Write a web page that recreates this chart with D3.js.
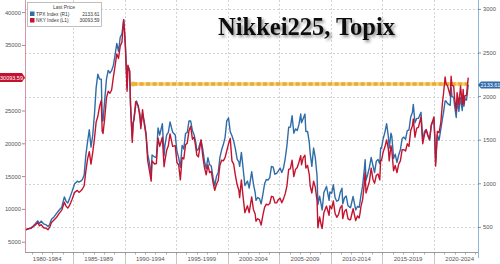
<!DOCTYPE html>
<html>
<head>
<meta charset="utf-8">
<script src="https://cdn.jsdelivr.net/npm/d3@7"></script>
<style>
  body { margin: 0; background: #fff; }
  svg { display: block; font-family: "Liberation Sans", Arial, sans-serif; }
</style>
</head>
<body>
<svg id="chart" width="500" height="264"></svg>
<script>
// Sample dates (year-month) and closing levels
const dates = [
  "1980-05","1980-09","1980-12",
  "1981-03","1981-05","1981-08","1981-10","1981-12",
  "1982-03","1982-06","1982-08","1982-10","1982-12",
  "1983-03","1983-06","1983-09","1983-12",
  "1984-03","1984-05","1984-07","1984-09","1984-12",
  "1985-03","1985-06","1985-08","1985-10","1985-12",
  "1986-02","1986-04","1986-06","1986-08","1986-10","1986-12",
  "1987-02","1987-04","1987-06","1987-08","1987-10","1987-11","1987-12",
  "1988-02","1988-04","1988-06","1988-08","1988-10","1988-12",
  "1989-02","1989-04","1989-06","1989-08","1989-10","1989-12",
  "1990-01","1990-02","1990-04","1990-05","1990-07","1990-08","1990-10","1990-11","1990-12",
  "1991-02","1991-03","1991-05","1991-07","1991-08","1991-10","1991-12",
  "1992-02","1992-04","1992-06","1992-08","1992-09","1992-12",
  "1993-02","1993-04","1993-06","1993-09","1993-11","1993-12",
  "1994-02","1994-04","1994-06","1994-09","1994-12",
  "1995-02","1995-04","1995-06","1995-08","1995-10","1995-12",
  "1996-02","1996-04","1996-06","1996-08","1996-10","1996-12",
  "1997-01","1997-03","1997-06","1997-08","1997-10","1997-12",
  "1998-02","1998-04","1998-06","1998-08","1998-10","1998-12",
  "1999-02","1999-04","1999-06","1999-08","1999-10","1999-12",
  "2000-02","2000-04","2000-06","2000-08","2000-10","2000-12",
  "2001-02","2001-03","2001-05","2001-07","2001-09","2001-12",
  "2002-02","2002-05","2002-07","2002-09","2002-10","2002-12",
  "2003-02","2003-04","2003-06","2003-08","2003-10","2003-12",
  "2004-02","2004-04","2004-06","2004-08","2004-10","2004-12",
  "2005-02","2005-04","2005-06","2005-08","2005-10","2005-12",
  "2006-02","2006-04","2006-06","2006-08","2006-10","2006-12",
  "2007-02","2007-03","2007-05","2007-07","2007-08","2007-10","2007-12",
  "2008-01","2008-03","2008-05","2008-07","2008-09","2008-10","2008-12",
  "2009-02","2009-03","2009-05","2009-08","2009-11","2009-12",
  "2010-02","2010-04","2010-06","2010-08","2010-10","2010-12",
  "2011-02","2011-03","2011-05","2011-07","2011-09","2011-11","2011-12",
  "2012-03","2012-06","2012-08","2012-10","2012-11","2012-12",
  "2013-02","2013-04","2013-05","2013-06","2013-08","2013-10","2013-12",
  "2014-02","2014-04","2014-06","2014-08","2014-10","2014-11","2014-12",
  "2015-02","2015-04","2015-06","2015-08","2015-09","2015-11","2015-12",
  "2016-01","2016-02","2016-04","2016-06","2016-08","2016-10","2016-12",
  "2017-02","2017-04","2017-06","2017-08","2017-10","2017-12",
  "2018-01","2018-03","2018-05","2018-07","2018-10","2018-12",
  "2019-02","2019-04","2019-06","2019-08","2019-10","2019-12",
  "2020-01","2020-02","2020-03","2020-05","2020-07","2020-09","2020-11","2020-12",
  "2021-02","2021-03","2021-05","2021-08","2021-09","2021-10","2021-12",
  "2022-01","2022-03","2022-04","2022-06","2022-08","2022-10","2022-11","2022-12",
  "2023-01","2023-03","2023-04","2023-05"
];

// NKY Index (left axis)
const nky = [
  6800,7050,7116,
  7400,7600,8000,7500,7681,
  7200,7100,6900,7300,8016,
  8400,8800,9400,9893,
  11100,10500,10200,10600,11543,
  12600,12900,12600,12800,13113,
  13600,15800,17650,18800,16900,18701,
  20800,23300,24200,25700,26600,21910,21564,
  24000,27000,28000,27700,28200,30159,
  31900,33700,33000,34900,35500,38916,
  37200,34600,28000,32000,31000,25900,20222,23000,23849,
  26400,26300,25800,24000,22300,25200,22984,
  21300,17400,15900,14309,17400,16925,
  17000,20900,19600,21000,16500,17417,
  19000,19700,21500,19600,19723,
  17100,16800,14500,17900,17700,19868,
  20100,22000,22666,20700,21000,19361,
  18300,18000,20600,18200,16400,15259,
  16800,15600,15800,14100,12900,13842,
  14400,16700,17500,17400,17900,18934,
  20000,20833,17400,16900,15200,13786,
  12900,11800,14500,11900,9500,10542,
  9500,11900,10000,9300,8200,8579,
  8400,7607,9100,10300,10800,10676,
  10900,12000,11900,11000,11000,11488,
  11700,11000,11600,12400,13600,16111,
  16200,17500,15000,16100,16400,17226,
  18200,16800,17900,18260,16300,16700,15307,
  13600,12500,14300,13400,11300,7200,8860,
  7500,7100,9500,10500,9100,10546,
  10100,11300,9400,8800,9200,10229,
  10600,8600,9700,10000,8600,8400,8455,
  10100,8300,9000,8700,9400,10395,
  11500,13900,15600,12500,13400,14300,16291,
  14600,14000,15200,15400,14500,17500,17450,
  18800,19500,20600,19200,17400,19700,19034,
  17500,15900,16700,15600,16900,17400,19114,
  19100,18900,20000,19600,22000,22765,
  23800,21000,22400,22500,24100,20015,
  21400,22200,21300,20700,22900,23657,
  24100,21100,16600,21900,21700,23200,26400,27444,
  30200,29200,28800,27300,30300,28900,28792,
  27000,25000,27800,25900,28800,26000,28300,26095,
  27300,27400,28900,30093.59
];

// TPX Index (right axis)
const tpx = [
  470,485,494,
  520,540,575,545,573,
  540,528,511,535,593,
  620,660,700,731,
  850,800,780,830,913,
  1000,1030,1020,1030,1049,
  1100,1330,1480,1620,1420,1556,
  1800,2100,2258,2200,2200,1720,1725,
  1970,2200,2300,2270,2300,2357,
  2480,2610,2520,2680,2720,2881,
  2737,2590,2100,2350,2300,1900,1523,1700,1733,
  1900,1950,1880,1800,1660,1800,1714,
  1580,1340,1240,1103,1330,1308,
  1300,1640,1560,1690,1320,1439,
  1560,1590,1710,1590,1559,
  1370,1300,1190,1440,1400,1577,
  1590,1720,1720,1610,1560,1470,
  1380,1400,1500,1400,1260,1175,
  1300,1220,1200,1070,980,1086,
  1130,1300,1390,1450,1530,1722,
  1755,1600,1550,1490,1400,1283,
  1250,1200,1360,1180,980,1032,
  950,1140,1000,900,810,843,
  830,770,880,1000,1050,1043,
  1070,1200,1190,1110,1120,1149,
  1180,1130,1180,1290,1440,1649,
  1650,1780,1580,1630,1610,1681,
  1800,1700,1750,1800,1600,1600,1475,
  1350,1200,1410,1300,1090,760,859,
  750,700,900,970,810,907,
  890,990,840,800,810,899,
  950,770,840,860,750,730,728,
  854,700,740,730,790,860,
  980,1160,1276,1040,1110,1190,1302,
  1210,1130,1260,1280,1230,1410,1408,
  1520,1590,1690,1540,1410,1580,1547,
  1430,1290,1340,1245,1330,1390,1519,
  1535,1510,1610,1617,1765,1818,
  1911,1700,1750,1750,1820,1494,
  1600,1620,1550,1500,1670,1721,
  1750,1510,1240,1560,1500,1625,1754,1804,
  1950,1950,1920,1900,2110,2000,1992,
  1900,1760,1950,1830,1990,1840,2000,1891,
  1975,1960,2050,2133.61
];

const leftTicks = [5000, 10000, 15000, 20000, 25000, 30000, 35000, 40000];
const rightTicks = [500, 1000, 1500, 2000, 2500, 3000];
const periodLabels = ["1980-1984","1985-1989","1990-1994","1995-1999","2000-2004",
                      "2005-2009","2010-2014","2015-2019","2020-2024"];
const lastNky = 30093.59;
const lastTpx = 2133.61;
const levelSince = "1990-11";

const svg = d3.select("#chart");
const parse = d3.timeParse("%Y-%m");
const blue = "#2f6ca8";
const red = "#c4132f";

const plot = { left: 25, right: 478, top: 0, bottom: 252 };

const x = d3.scaleTime()
  .domain([new Date(1980, 0, 1), new Date(2025, 0, 1)])
  .range([21.4, 485.5]);
const yL = d3.scaleLinear().domain([0, 40000]).range([275, 12.6]);
const yR = d3.scaleLinear().domain([0, 3000]).range([271, 9.4]);

const rows = dates.map((d, i) => ({ date: parse(d), n: nky[i], t: tpx[i] }));

// Grid lines
const grid = svg.append("g").attr("stroke", "#c8c8c8").attr("stroke-dasharray", "2,2").attr("stroke-width", 0.8);
grid.selectAll("line.h")
  .data(rightTicks)
  .enter()
  .append("line")
  .attr("x1", plot.left).attr("x2", plot.right)
  .attr("y1", d => Math.round(yR(d)) + 0.5).attr("y2", d => Math.round(yR(d)) + 0.5);

const fiveYears = d3.range(1985, 2025, 5).map(yr => new Date(yr, 0, 1));
grid.selectAll("line.v")
  .data(fiveYears)
  .enter()
  .append("line")
  .attr("x1", d => Math.round(x(d)) + 0.5).attr("x2", d => Math.round(x(d)) + 0.5)
  .attr("y1", plot.top).attr("y2", plot.bottom);

// Separators below the axis
svg.append("g").selectAll("line")
  .data(fiveYears)
  .enter()
  .append("line")
  .attr("x1", d => Math.round(x(d)) + 0.5).attr("x2", d => Math.round(x(d)) + 0.5)
  .attr("y1", plot.bottom).attr("y2", 264)
  .attr("stroke", "#b8b8b8").attr("stroke-width", 0.8);

// Level line at the current Topix reading
const lvl = svg.append("g");
const lvlY = yR(lastTpx) - 1;
const lvlX1 = x(parse(levelSince));
const lvlX2 = x(parse(dates[dates.length - 1]));
lvl.append("line")
  .attr("x1", lvlX1).attr("x2", lvlX2).attr("y1", lvlY).attr("y2", lvlY)
  .attr("stroke", "#f6d36b").attr("stroke-width", 3.5);
lvl.append("line")
  .attr("x1", lvlX1).attr("x2", lvlX2).attr("y1", lvlY).attr("y2", lvlY)
  .attr("stroke", "#e9aa3c").attr("stroke-width", 3.5).attr("stroke-dasharray", "4,2.5");
lvl.append("circle").attr("cx", lvlX1).attr("cy", lvlY).attr("r", 2.5).attr("fill", "#eeb440");

// Series lines
const clip = svg.append("clipPath").attr("id", "plotclip").append("rect")
  .attr("x", plot.left).attr("y", plot.top)
  .attr("width", plot.right - plot.left).attr("height", plot.bottom - plot.top);

const lineT = d3.line().x(d => x(d.date)).y(d => yR(d.t));
const lineN = d3.line().x(d => x(d.date)).y(d => yL(d.n));

svg.append("path").datum(rows)
  .attr("clip-path", "url(#plotclip)")
  .attr("d", lineT).attr("fill", "none").attr("stroke", blue).attr("stroke-width", 1.4)
  .attr("stroke-linejoin", "round");
svg.append("path").datum(rows)
  .attr("clip-path", "url(#plotclip)")
  .attr("d", lineN).attr("fill", "none").attr("stroke", red).attr("stroke-width", 1.4)
  .attr("stroke-linejoin", "round");

// Axes lines
svg.append("line").attr("x1", plot.left + 0.5).attr("x2", plot.left + 0.5)
  .attr("y1", plot.top).attr("y2", plot.bottom).attr("stroke", "#d9949f");
svg.append("line").attr("x1", plot.right + 0.5).attr("x2", plot.right + 0.5)
  .attr("y1", plot.top).attr("y2", 258).attr("stroke", "#8fb4d6");
svg.append("line").attr("x1", plot.left).attr("x2", plot.right)
  .attr("y1", plot.bottom + 0.5).attr("y2", plot.bottom + 0.5).attr("stroke", "#9a9a9a");

// Yearly minor ticks
svg.append("g").selectAll("line")
  .data(d3.range(1981, 2025).map(yr => new Date(yr, 0, 1)))
  .enter()
  .append("line")
  .attr("x1", d => Math.round(x(d)) + 0.5).attr("x2", d => Math.round(x(d)) + 0.5)
  .attr("y1", plot.bottom).attr("y2", plot.bottom + 2.5)
  .attr("stroke", "#9a9a9a").attr("stroke-width", 0.8);

// Period labels
svg.append("g").selectAll("text")
  .data(periodLabels)
  .enter()
  .append("text")
  .attr("x", (d, i) => x(new Date(1982 + i * 5, 6, 1)))
  .attr("y", 261)
  .attr("text-anchor", "middle")
  .attr("font-size", 6)
  .attr("fill", "#555")
  .text(d => d);

// Left axis ticks (the 30000 label sits under the NKY tag)
const lt = svg.append("g");
lt.selectAll("line")
  .data(leftTicks)
  .enter()
  .append("line")
  .attr("x1", plot.left - 3).attr("x2", plot.left)
  .attr("y1", d => yL(d)).attr("y2", d => yL(d))
  .attr("stroke", "#777").attr("stroke-width", 0.8);
lt.selectAll("text")
  .data(leftTicks.filter(d => Math.abs(yL(d) - yL(lastNky)) > 8))
  .enter()
  .append("text")
  .attr("x", plot.left - 4).attr("y", d => yL(d) + 2)
  .attr("text-anchor", "end").attr("font-size", 5.8).attr("fill", "#555")
  .text(d => d);

// Right axis ticks
const rt = svg.append("g");
rt.selectAll("line")
  .data(rightTicks)
  .enter()
  .append("line")
  .attr("x1", plot.right).attr("x2", plot.right + 3)
  .attr("y1", d => yR(d)).attr("y2", d => yR(d))
  .attr("stroke", "#777").attr("stroke-width", 0.8);
rt.selectAll("text")
  .data(rightTicks)
  .enter()
  .append("text")
  .attr("x", plot.right + 5).attr("y", d => yR(d) + 2)
  .attr("font-size", 5.8).attr("fill", "#555")
  .text(d => d);

// Last value tags
const tagN = svg.append("g").attr("transform", `translate(0,${yL(lastNky)})`);
tagN.append("path").attr("d", "M0,-4.5H22L25,0L22,4.5H0Z").attr("fill", red);
tagN.append("text").attr("x", 11.5).attr("y", 2).attr("text-anchor", "middle")
  .attr("font-size", 5.5).attr("fill", "#fff").text(d3.format(".2f")(lastNky));

const tagT = svg.append("g").attr("transform", `translate(${plot.right},${yR(lastTpx)})`);
tagT.append("path").attr("d", "M0,0L3,-3.5H22V3.5H3Z").attr("fill", blue);
tagT.append("text").attr("x", 12.5).attr("y", 2).attr("text-anchor", "middle")
  .attr("font-size", 5.5).attr("fill", "#fff").text(d3.format(".2f")(lastTpx));

// Legend
const lg = svg.append("g");
lg.append("rect").attr("x", 27.5).attr("y", 2.5).attr("width", 74).attr("height", 24)
  .attr("fill", "#fff").attr("stroke", "#b0b0b0").attr("stroke-width", 0.8);
lg.append("text").attr("x", 64).attr("y", 8.5).attr("text-anchor", "middle")
  .attr("font-size", 5).attr("fill", "#444").text("Last Price");
const legendRows = [
  { name: "TPX Index", axis: "(R1)", value: lastTpx, color: blue },
  { name: "NKY Index", axis: "(L1)", value: lastNky, color: red }
];
legendRows.forEach((r, i) => {
  const yy = 15.5 + i * 6.5;
  lg.append("rect").attr("x", 30).attr("y", yy - 4).attr("width", 4.5).attr("height", 4.5).attr("fill", r.color);
  lg.append("text").attr("x", 36).attr("y", yy).attr("font-size", 4.8).attr("fill", "#333").text(r.name);
  lg.append("text").attr("x", 60).attr("y", yy).attr("font-size", 4.8).attr("fill", "#333").text(r.axis);
  lg.append("text").attr("x", 99.5).attr("y", yy).attr("text-anchor", "end")
    .attr("font-size", 4.8).attr("fill", "#333").text(d3.format(".2f")(r.value));
});

// Title with soft shadow
const defs = svg.append("defs");
const f = defs.append("filter").attr("id", "shadow").attr("x", "-10%").attr("y", "-30%")
  .attr("width", "130%").attr("height", "170%");
f.append("feDropShadow").attr("dx", 2).attr("dy", 2).attr("stdDeviation", 1.6)
  .attr("flood-color", "#000").attr("flood-opacity", 0.45);
svg.append("text")
  .attr("x", 218).attr("y", 35)
  .attr("font-family", "'Liberation Serif', 'Times New Roman', serif")
  .attr("font-weight", "bold")
  .attr("font-size", 24.5)
  .attr("fill", "#111")
  .attr("filter", "url(#shadow)")
  .text("Nikkei225, Topix");
</script>
</body>
</html>
